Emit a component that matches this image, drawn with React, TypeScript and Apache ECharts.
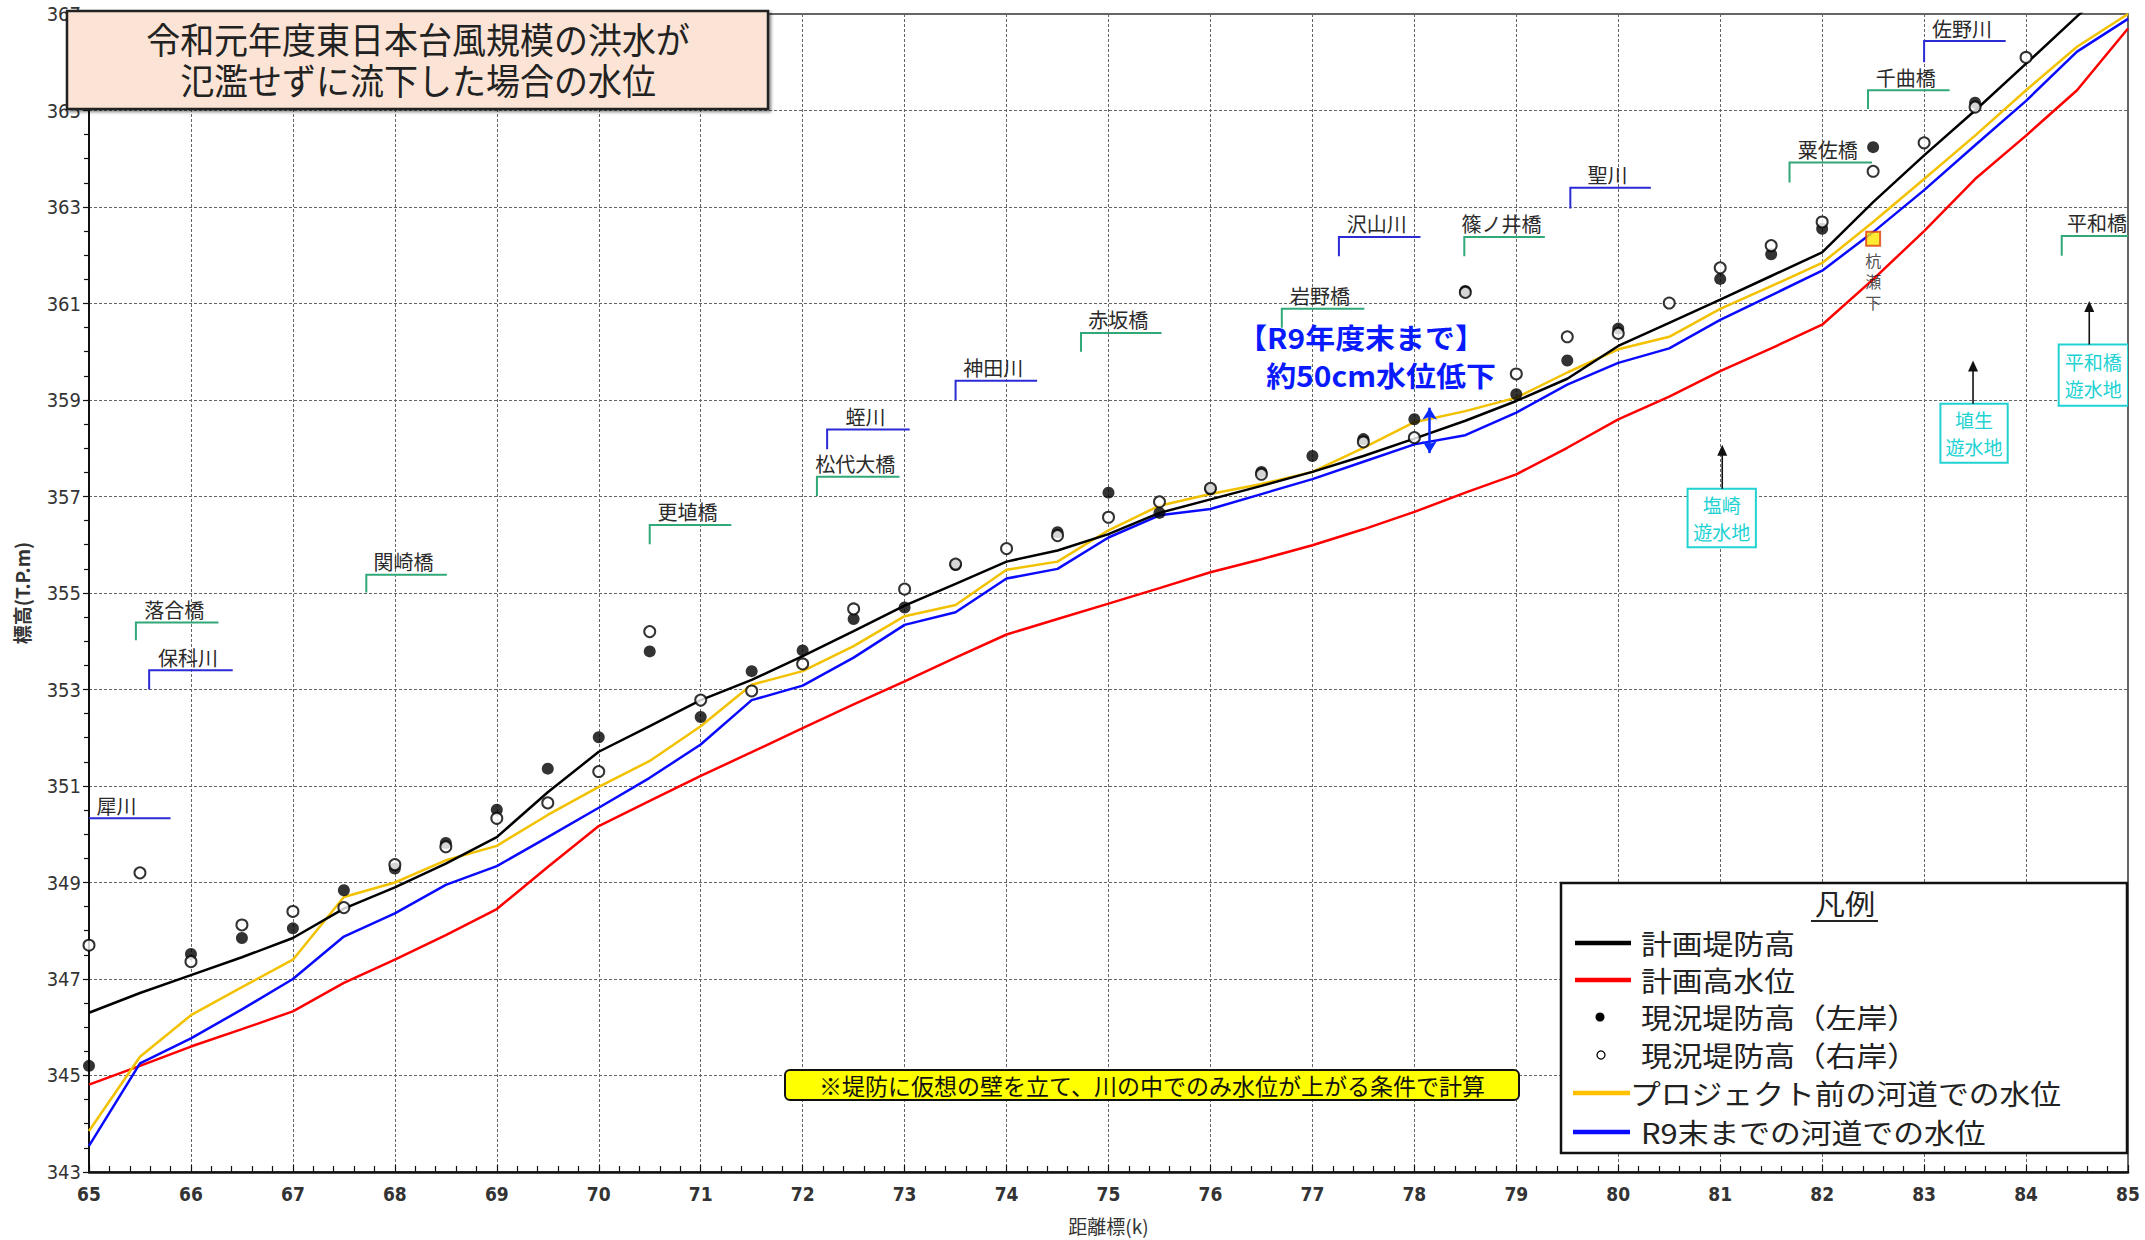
import React, { useEffect, useRef } from "react";
import * as echarts from "echarts";

// ---------- data ----------
const km = [
  65, 65.5, 66, 66.5, 67, 67.5, 68, 68.5, 69, 69.5, 70, 70.5, 71, 71.5, 72, 72.5, 73, 73.5, 74, 74.5,
  75, 75.5, 76, 76.5, 77, 77.5, 78, 78.5, 79, 79.5, 80, 80.5, 81, 81.5, 82, 82.5, 83, 83.5, 84, 84.5, 85,
];

// 計画堤防高
const plannedLevee = [
  346.3, 346.71, 347.08, 347.45, 347.85, 348.46, 348.9, 349.39, 349.94, 350.87, 351.71, 352.24, 352.78,
  353.2, 353.69, 354.21, 354.74, 355.19, 355.65, 355.88, 356.22, 356.66, 356.94, 357.22, 357.51, 357.84,
  358.2, 358.57, 358.98, 359.44, 360.12, 360.6, 361.08, 361.57, 362.06, 363.1, 364.07, 365.0, 365.97,
  366.95, 367.9,
];
// 計画高水位
const plannedHWL = [
  344.81, 345.2, 345.6, 345.96, 346.33, 346.92, 347.4, 347.91, 348.45, 349.32, 350.17, 350.69, 351.21,
  351.7, 352.2, 352.69, 353.17, 353.66, 354.14, 354.46, 354.78, 355.1, 355.43, 355.7, 355.99, 356.32,
  356.68, 357.08, 357.46, 358.01, 358.6, 359.07, 359.6, 360.07, 360.56, 361.5, 362.5, 363.58, 364.48,
  365.42, 366.7,
];
// プロジェクト前の河道での水位
const beforeProject = [
  343.85, 345.39, 346.25, 346.83, 347.4, 348.7, 349.0, 349.46, 349.76, 350.4, 350.98, 351.52, 352.24,
  353.1, 353.38, 353.9, 354.52, 354.75, 355.48, 355.65, 356.3, 356.81, 357.05, 357.26, 357.51, 358.01,
  358.54, 358.77, 359.05, 359.57, 360.05, 360.31, 360.89, 361.36, 361.84, 362.69, 363.58, 364.48, 365.42,
  366.32, 367.0,
];
// R9末までの河道での水位
const byR9 = [
  343.54, 345.25, 345.77, 346.37, 347.0, 347.88, 348.36, 348.95, 349.34, 349.94, 350.55, 351.17, 351.86,
  352.78, 353.08, 353.66, 354.34, 354.6, 355.3, 355.5, 356.15, 356.61, 356.74, 357.05, 357.36, 357.72,
  358.08, 358.27, 358.74, 359.32, 359.77, 360.07, 360.66, 361.17, 361.68, 362.48, 363.35, 364.28, 365.2,
  366.22, 366.9,
];
// 現況堤防高（左岸）
const leftBank = [
  345.2, null, 347.52, 347.85, 348.05, 348.84, 349.29, 349.82, 350.51, 351.36, 352.01, 353.79, 352.43,
  353.38, 353.81, 354.46, 354.7, 355.58, null, 356.26, 357.08, 356.66, 357.15, 357.51, 357.84, 358.19,
  358.6, 361.26, 359.12, 359.82, 360.48, null, 361.51, 362.02, 362.55, 364.24, null, 365.16, null, null, null,
];
// 現況堤防高（右岸）
const rightBank = [
  347.7, 349.2, 347.36, 348.12, 348.4, 348.48, 349.37, 349.74, 350.33, 350.65, 351.3, 354.2, 352.78,
  352.97, 353.53, 354.67, 355.08, 355.6, 355.92, 356.19, 356.57, 356.89, 357.17, 357.46, null, 358.13,
  358.22, 361.23, 359.54, 360.31, 360.38, 361.01, 361.74, 362.2, 362.69, 363.74, 364.33, 365.07, 366.1,
  null, null,
];

const yTicks = [343, 345, 347, 349, 351, 353, 355, 357, 359, 361, 363, 365, 367];
const xTicks = [65, 66, 67, 68, 69, 70, 71, 72, 73, 74, 75, 76, 77, 78, 79, 80, 81, 82, 83, 84, 85];

// 地点ラベル（川・橋）
const placeNames = [
  "犀川", "保科川", "落合橋", "関崎橋", "更埴橋", "蛭川", "松代大橋", "神田川", "赤坂橋",
  "岩野橋", "沢山川", "篠ノ井橋", "聖川", "粟佐橋", "千曲橋", "佐野川", "平和橋",
];
const placeIsRiver = [
  true, true, false, false, false, true, false, true, false, false, true, false, true, false, false, true, false,
];
const placeStart = [64.8, 65.59, 65.46, 67.72, 70.5, 72.24, 72.14, 73.5, 74.73, 76.7, 77.26, 78.49, 79.53, 81.68, 82.45, 83.0, 84.35];
const placeEnd = [65.8, 66.41, 66.27, 68.51, 71.3, 73.05, 72.95, 74.3, 75.52, 77.51, 78.06, 79.28, 80.32, 82.49, 83.25, 83.8, 85.1];
const placeLevel = [350.33, 353.4, 354.39, 355.38, 356.41, 358.39, 357.41, 359.4, 360.39, 360.89, 362.38, 362.38, 363.4, 363.92, 365.42, 366.44, 362.4];
const placeFoot = [349.95, 353.0, 354.02, 355.01, 356.01, 357.98, 357.01, 359.0, 360.0, 360.5, 361.98, 361.98, 362.97, 363.51, 365.03, 366.0, 361.99];

// 遊水地
const basinNames = ["塩崎\n遊水地", "埴生\n遊水地", "平和橋\n遊水地"];
const basinLeft = [80.68, 83.16, 84.32];
const basinRight = [81.35, 83.82, 85.0];
const basinTop = [357.16, 358.92, 360.15];
const basinBottom = [355.95, 357.7, 358.88];
const basinArrowKm = [81.02, 83.48, 84.62];
const basinArrowTip = [358.07, 359.82, 361.05];

// 杭瀬下 水位観測所
const gaugeKm = [82.5];
const gaugeLevel = [362.34];
// 水位低下 矢印
const dropKm = 78.15;
const dropLow = 357.9;
const dropHigh = 358.84;

// ---------- style ----------
const JP = "'Noto Sans CJK JP', 'Noto Sans', sans-serif";
const NUM = "'Liberation Sans Narrow', 'DejaVu Sans Condensed', 'Liberation Sans', sans-serif";
const C_BLACK = "#000000";
const C_RED = "#ff0000";
const C_YELLOW = "#f2c100";
const C_BLUE = "#0a0aff";
const C_RIVER = "#2b2bd6";
const C_BRIDGE = "#30a878";
const C_CYAN = "#22d2d2";

function lineSeries(name: string, values: number[], color: string, z: number) {
  return {
    type: "line",
    name,
    data: km.map((x, i) => [x, values[i]]),
    symbol: "none",
    clip: true,
    silent: true,
    z,
    lineStyle: { color, width: 2.5 },
    itemStyle: { color },
  };
}

function pts(values: (number | null)[]) {
  return km.map((x, i) => [x, values[i]]).filter((d) => d[1] !== null);
}

function buildOption() {
  const legendX = 1561;
  const legendY = 883;
  const rowY = [943, 980, 1017, 1055, 1093, 1132];
  const legendTexts = [
    "計画堤防高",
    "計画高水位",
    "現況堤防高（左岸）",
    "現況堤防高（右岸）",
    "プロジェクト前の河道での水位",
    "R9末までの河道での水位",
  ];

  const graphic: any[] = [
    // title box
    {
      type: "rect",
      z: 100,
      shape: { x: 67, y: 11, width: 701, height: 98 },
      style: { fill: "#fbe4d5", stroke: "#222", lineWidth: 2.5, shadowBlur: 3, shadowOffsetX: 2, shadowOffsetY: 2, shadowColor: "rgba(0,0,0,0.45)" },
    },
    {
      type: "text",
      z: 101,
      x: 418,
      y: 38,
      scaleY: 1.06,
      style: { text: "令和元年度東日本台風規模の洪水が", fill: "#222", fontSize: 34, fontFamily: JP, align: "center", verticalAlign: "middle" },
    },
    {
      type: "text",
      z: 101,
      x: 418,
      y: 79,
      scaleY: 1.06,
      style: { text: "氾濫せずに流下した場合の水位", fill: "#222", fontSize: 34, fontFamily: JP, align: "center", verticalAlign: "middle" },
    },
    // note box
    {
      type: "rect",
      z: 100,
      shape: { x: 785, y: 1070, width: 734, height: 30, r: 5 },
      style: { fill: "#ffff00", stroke: "#111", lineWidth: 2 },
    },
    {
      type: "text",
      z: 101,
      x: 1152,
      y: 1085,
      style: { text: "※堤防に仮想の壁を立て、川の中でのみ水位が上がる条件で計算", fill: "#111", fontSize: 23, fontFamily: JP, align: "center", verticalAlign: "middle" },
    },
    // blue annotation
    {
      type: "text",
      z: 101,
      x: 1361,
      y: 336,
      scaleX: 1.07,
      style: { text: "【R9年度末まで】", fill: "#0a1aff", fontSize: 28, fontWeight: "bold", fontFamily: JP, align: "center", verticalAlign: "middle" },
    },
    {
      type: "text",
      z: 101,
      x: 1381,
      y: 374,
      scaleX: 1.07,
      style: { text: "約50cm水位低下", fill: "#0a1aff", fontSize: 28, fontWeight: "bold", fontFamily: JP, align: "center", verticalAlign: "middle" },
    },
    // legend box
    {
      type: "rect",
      z: 100,
      shape: { x: legendX, y: legendY, width: 566, height: 270 },
      style: { fill: "#ffffff", stroke: "#111", lineWidth: 2.5 },
    },
    {
      type: "text",
      z: 101,
      x: 1845,
      y: 903,
      scaleX: 1.08,
      style: { text: "凡例", fill: "#222", fontSize: 28, fontFamily: JP, align: "center", verticalAlign: "middle" },
    },
    { type: "line", z: 101, shape: { x1: 1811, y1: 921, x2: 1878, y2: 921 }, style: { stroke: "#222", lineWidth: 2 } },
    { type: "line", z: 101, shape: { x1: 1575, y1: rowY[0], x2: 1631, y2: rowY[0] }, style: { stroke: C_BLACK, lineWidth: 4.5 } },
    { type: "line", z: 101, shape: { x1: 1575, y1: rowY[1], x2: 1631, y2: rowY[1] }, style: { stroke: C_RED, lineWidth: 4.5 } },
    { type: "circle", z: 101, shape: { cx: 1600, cy: rowY[2], r: 4.5 }, style: { fill: "#000" } },
    { type: "circle", z: 101, shape: { cx: 1601, cy: rowY[3], r: 4 }, style: { fill: "#fff", stroke: "#000", lineWidth: 1.3 } },
    { type: "line", z: 101, shape: { x1: 1573, y1: rowY[4], x2: 1630, y2: rowY[4] }, style: { stroke: "#ffc000", lineWidth: 4.5 } },
    { type: "line", z: 101, shape: { x1: 1573, y1: rowY[5], x2: 1630, y2: rowY[5] }, style: { stroke: C_BLUE, lineWidth: 4.5 } },
  ];
  legendTexts.forEach((t, i) => {
    graphic.push({
      type: "text",
      z: 101,
      x: i === 4 ? 1630 : 1641,
      y: rowY[i],
      scaleX: 1.1,
      style: { text: t, fill: "#222", fontSize: 28, lineHeight: 30, fontFamily: JP, align: "left", verticalAlign: "middle" },
    });
  });

  return {
    animation: false,
    backgroundColor: "#ffffff",
    grid: { left: 89, right: 17, top: 14, bottom: 68, show: true, borderColor: "#333", borderWidth: 1.5, containLabel: false },
    xAxis: {
      type: "value",
      min: xTicks[0],
      max: xTicks[xTicks.length - 1],
      interval: 1,
      name: "距離標(k)",
      nameLocation: "middle",
      nameGap: 44,
      nameTextStyle: { fontSize: 19, color: "#333", fontFamily: JP },
      axisLine: { show: true, onZero: false, lineStyle: { color: "#111", width: 2.5 } },
      axisTick: { show: true, inside: true, length: 7, lineStyle: { color: "#111", width: 1.2 } },
      minorTick: { show: true, splitNumber: 5, length: 6, lineStyle: { color: "#111", width: 1.2 } },
      axisLabel: { fontSize: 19, color: "#333", fontFamily: NUM, fontWeight: "bold", margin: 13 },
      splitLine: { show: true, lineStyle: { color: "#666", width: 1, type: [3, 2] } },
    },
    yAxis: {
      type: "value",
      min: yTicks[0],
      max: yTicks[yTicks.length - 1],
      interval: 2,
      name: "標高(T.P.m)",
      nameLocation: "middle",
      nameGap: 58,
      nameTextStyle: { fontSize: 19, color: "#333", fontFamily: JP, fontWeight: "bold" },
      axisLine: { show: true, onZero: false, lineStyle: { color: "#111", width: 2 } },
      axisTick: { show: true, inside: false, length: 6, lineStyle: { color: "#111", width: 1.2 } },
      minorTick: { show: true, splitNumber: 4, length: 5, lineStyle: { color: "#111", width: 1.2 } },
      axisLabel: { fontSize: 20, color: "#333", fontFamily: NUM, margin: 8 },
      splitLine: { show: true, lineStyle: { color: "#666", width: 1, type: [3, 2] } },
    },
    series: [
      lineSeries("計画高水位", plannedHWL, C_RED, 2),
      lineSeries("R9末までの河道での水位", byR9, C_BLUE, 2),
      lineSeries("プロジェクト前の河道での水位", beforeProject, C_YELLOW, 2),
      lineSeries("計画堤防高", plannedLevee, C_BLACK, 2),
      {
        type: "scatter",
        name: "現況堤防高（左岸）",
        data: pts(leftBank),
        symbol: "circle",
        symbolSize: 12,
        silent: true,
        z: 3,
        itemStyle: { color: "#000" },
      },
      {
        type: "scatter",
        name: "現況堤防高（右岸）",
        data: pts(rightBank),
        symbol: "circle",
        symbolSize: 11,
        silent: true,
        z: 4,
        itemStyle: { color: "#fff", borderColor: "#000", borderWidth: 2 },
      },
      {
        type: "custom",
        name: "地点",
        clip: true,
        silent: true,
        z: 5,
        data: placeNames.map((_, i) => [placeStart[i], placeEnd[i], placeLevel[i], placeFoot[i]]),
        encode: { x: [0, 1], y: [2, 3] },
        renderItem: (params: any, api: any) => {
          const i = params.dataIndex;
          const foot = api.coord([api.value(0), api.value(3)]);
          const corner = api.coord([api.value(0), api.value(2)]);
          const end = api.coord([api.value(1), api.value(2)]);
          const color = placeIsRiver[i] ? C_RIVER : C_BRIDGE;
          return {
            type: "group",
            children: [
              { type: "polyline", shape: { points: [foot, corner, end] }, style: { stroke: color, lineWidth: 2, fill: null } },
              {
                type: "text",
                x: (corner[0] + end[0]) / 2 - 3,
                y: corner[1] - 3,
                style: { text: placeNames[i], fill: "#2a2a2a", fontSize: 20, fontFamily: JP, align: "center", verticalAlign: "bottom" },
              },
            ],
          };
        },
      },
      {
        type: "custom",
        name: "遊水地",
        clip: true,
        silent: true,
        z: 6,
        data: basinNames.map((_, i) => [basinLeft[i], basinRight[i], basinTop[i], basinBottom[i], basinArrowKm[i], basinArrowTip[i]]),
        encode: { x: [0, 1, 4], y: [2, 3, 5] },
        renderItem: (params: any, api: any) => {
          const i = params.dataIndex;
          const tl = api.coord([api.value(0), api.value(2)]);
          const br = api.coord([api.value(1), api.value(3)]);
          const base = api.coord([api.value(4), api.value(2)]);
          const tip = api.coord([api.value(4), api.value(5)]);
          return {
            type: "group",
            children: [
              {
                type: "rect",
                shape: { x: tl[0], y: tl[1], width: br[0] - tl[0], height: br[1] - tl[1] },
                style: { fill: "#ffffff", stroke: C_CYAN, lineWidth: 2 },
              },
              {
                type: "text",
                x: (tl[0] + br[0]) / 2,
                y: (tl[1] + br[1]) / 2,
                style: { text: basinNames[i], fill: C_CYAN, fontSize: 19, lineHeight: 27, fontFamily: JP, align: "center", verticalAlign: "middle" },
              },
              { type: "line", shape: { x1: base[0], y1: base[1], x2: tip[0], y2: tip[1] + 8 }, style: { stroke: "#111", lineWidth: 1.6 } },
              {
                type: "polygon",
                shape: { points: [[tip[0], tip[1]], [tip[0] - 5, tip[1] + 11], [tip[0] + 5, tip[1] + 11]] },
                style: { fill: "#111" },
              },
            ],
          };
        },
      },
      {
        type: "scatter",
        name: "杭瀬下",
        data: gaugeKm.map((x, i) => [x, gaugeLevel[i]]),
        symbol: "rect",
        symbolSize: 14,
        silent: true,
        z: 7,
        itemStyle: { color: "#ffe600", borderColor: "#e04010", borderWidth: 2 },
        label: {
          show: true,
          position: "bottom",
          distance: 3,
          formatter: "杭\n瀬\n下",
          fontSize: 16,
          lineHeight: 21,
          color: "#222",
          fontFamily: JP,
        },
        markLine: {
          silent: true,
          symbol: ["arrow", "arrow"],
          symbolSize: [11, 12],
          label: { show: false },
          lineStyle: { color: "#0a2aff", width: 2.5, type: "solid" },
          data: [[{ coord: [dropKm, dropLow] }, { coord: [dropKm, dropHigh] }]],
        },
      },
    ],
    graphic: { elements: graphic },
  };
}

export default function App() {
  const ref = useRef<HTMLDivElement>(null);
  useEffect(() => {
    if (!ref.current) return;
    const chart = echarts.init(ref.current, null, { renderer: "svg" });
    chart.setOption(buildOption() as any);
    return () => chart.dispose();
  }, []);
  return (
    <div
      ref={ref}
      style={{ position: "fixed", left: 0, top: 0, width: 2145, height: 1240, background: "#fff" }}
    />
  );
}
